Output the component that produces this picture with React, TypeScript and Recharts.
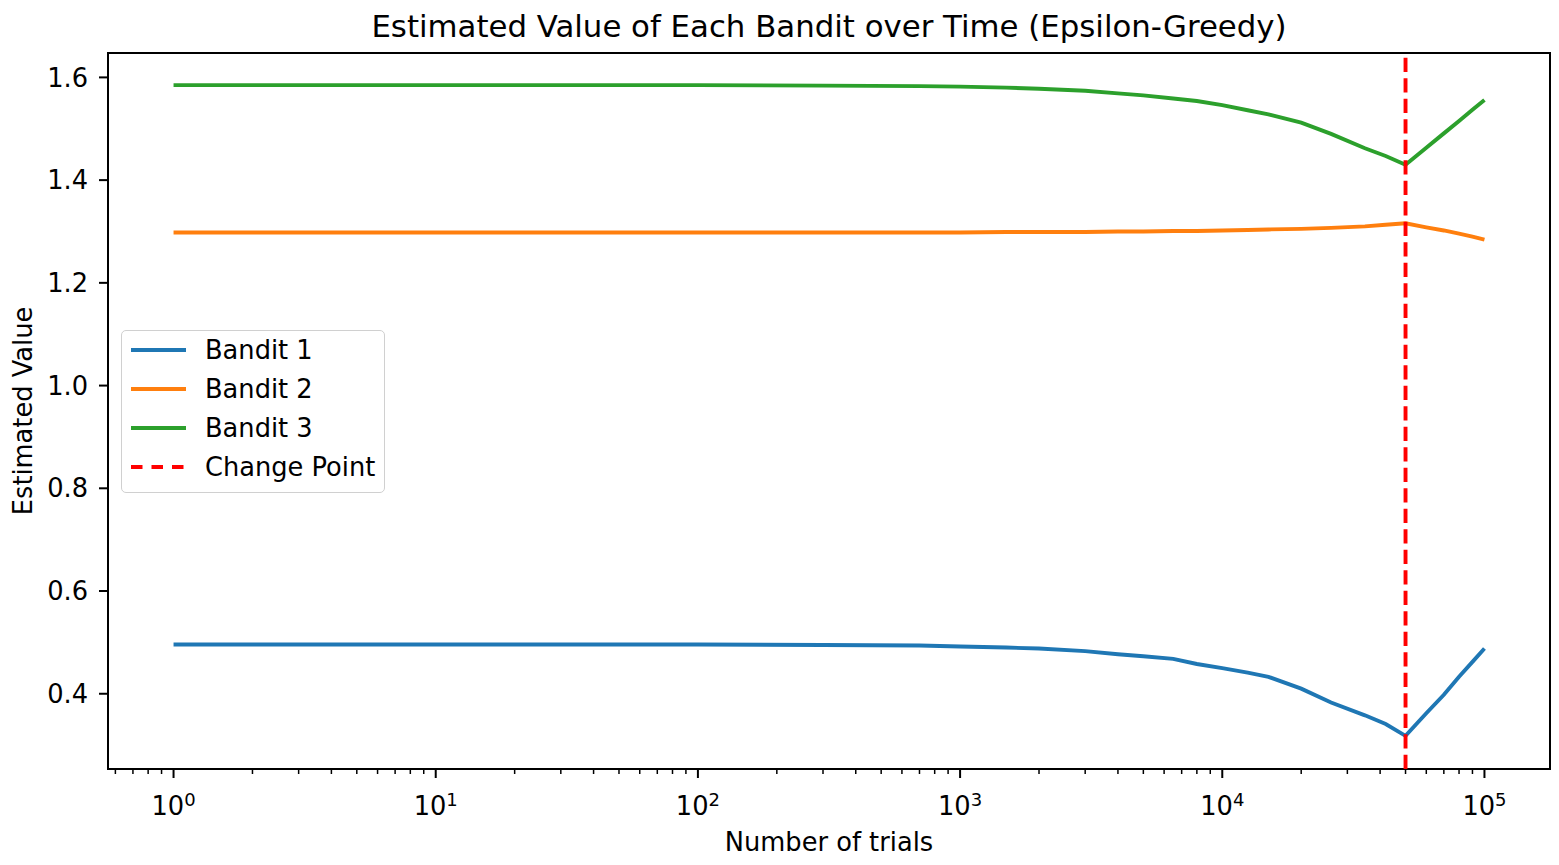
import React from 'react';
import { LineChart, Line, XAxis, YAxis, ReferenceLine, ReferenceArea } from 'recharts';

const trials = [1, 10, 100, 300, 700, 1000, 1500, 2000, 3000, 4000, 5000, 6500, 8000, 10000, 12500, 15000, 20000, 26000, 35000, 42000, 50000, 60000, 70000, 80000, 90000, 100000];
const bandit1 = [0.496, 0.496, 0.496, 0.495, 0.494, 0.492, 0.490, 0.488, 0.483, 0.477, 0.473, 0.468, 0.458, 0.450, 0.441, 0.433, 0.410, 0.383, 0.358, 0.341, 0.318, 0.362, 0.398, 0.433, 0.462, 0.488];
const bandit2 = [1.298, 1.298, 1.298, 1.298, 1.298, 1.298, 1.299, 1.299, 1.299, 1.300, 1.300, 1.301, 1.301, 1.302, 1.303, 1.304, 1.305, 1.307, 1.310, 1.313, 1.316, 1.308, 1.302, 1.296, 1.290, 1.284];
const bandit3 = [1.585, 1.585, 1.585, 1.584, 1.583, 1.582, 1.580, 1.578, 1.574, 1.569, 1.565, 1.559, 1.554, 1.546, 1.536, 1.528, 1.512, 1.490, 1.462, 1.447, 1.430, 1.463, 1.491, 1.515, 1.537, 1.556];

const seriesKeys = ['b1', 'b2', 'b3'];
const seriesNames = ['Bandit 1', 'Bandit 2', 'Bandit 3'];
const seriesColors = ['#1f77b4', '#ff7f0e', '#2ca02c'];
const seriesValues = [bandit1, bandit2, bandit3];

const changePoint = 50000;
const changeLabel = 'Change Point';
const changeColor = '#ff0000';

const titleText = 'Estimated Value of Each Bandit over Time (Epsilon-Greedy)';
const xLabelText = 'Number of trials';
const yLabelText = 'Estimated Value';

const yTicks = [0.4, 0.6, 0.8, 1.0, 1.2, 1.4, 1.6];
const xMajorExponents = [0, 1, 2, 3, 4, 5];
const xMinorMantissas = [2, 3, 4, 5, 6, 7, 8, 9];

const xDomain: [number, number] = [Math.pow(10, -0.25), Math.pow(10, 5.25)];
const yDomain: [number, number] = [0.2535, 1.6475];

const data = trials.map((t, i) => {
  const row: any = { t };
  seriesKeys.forEach((k, j) => {
    row[k] = seriesValues[j][i];
  });
  return row;
});

const xTicks: number[] = [];
for (let e = -1; e <= 5; e++) {
  if (xMajorExponents.includes(e)) xTicks.push(Math.pow(10, e));
  xMinorMantissas.forEach((m) => {
    const v = m * Math.pow(10, e);
    if (v > xDomain[0] && v < xDomain[1]) xTicks.push(v);
  });
}
xTicks.sort((a, b) => a - b);

const FONT = 'DejaVu Sans';

const XTick = (props: any) => {
  const { x, y, payload } = props;
  const v = payload.value as number;
  const ex = Math.log10(v);
  const isMajor = Math.abs(ex - Math.round(ex)) < 1e-6;
  return (
    <g>
      <line x1={x} x2={x} y1={y} y2={y + (isMajor ? 9 : 5)} stroke="#000" strokeWidth={isMajor ? 2 : 1.5} />
      {isMajor && (
        <text x={x} y={y + 46} textAnchor="middle" fontSize={25.7} fontFamily={FONT} fill="#000">
          10
          <tspan fontSize={18} dy={-9.5}>
            {Math.round(ex)}
          </tspan>
        </text>
      )}
    </g>
  );
};

export default function App() {
  const legendItems = [
    ...seriesNames.map((n, i) => ({ name: n, color: seriesColors[i], dashed: false })),
    { name: changeLabel, color: changeColor, dashed: true },
  ];
  return (
    <div style={{ position: 'absolute', left: 0, top: 0, width: 1559, height: 865, background: '#fff' }}>
      <LineChart width={1559} height={865} data={data} margin={{ top: 53, right: 9, left: 0, bottom: 0 }}>
        <XAxis
          dataKey="t"
          type="number"
          scale="log"
          domain={xDomain}
          allowDataOverflow
          ticks={xTicks}
          interval={0}
          tick={<XTick />}
          tickLine={false}
          tickSize={0}
          tickMargin={0}
          axisLine={false}
          height={96}
        />
        <YAxis
          type="number"
          domain={yDomain}
          allowDataOverflow
          ticks={yTicks}
          interval={0}
          width={108}
          tickSize={9}
          tickMargin={11}
          tickLine={{ stroke: '#000', strokeWidth: 2 }}
          axisLine={false}
          tickFormatter={(v: number) => v.toFixed(1)}
          tick={{ fontSize: 25.7, fontFamily: FONT, fill: '#000' }}
        />
        {seriesKeys.map((k, i) => (
          <Line
            key={k}
            dataKey={k}
            name={seriesNames[i]}
            type="linear"
            stroke={seriesColors[i]}
            strokeWidth={3.9}
            dot={false}
            activeDot={false}
            isAnimationActive={false}
          />
        ))}
        <ReferenceLine x={changePoint} stroke={changeColor} strokeWidth={3.9} strokeDasharray="14.3 6.2" />
        <ReferenceArea x1={xDomain[0]} x2={xDomain[1]} y1={yDomain[0]} y2={yDomain[1]} fill="none" fillOpacity={0} stroke="#000" strokeWidth={2} strokeOpacity={1} />
      </LineChart>
      <svg width={1559} height={865} style={{ position: 'absolute', left: 0, top: 0, pointerEvents: 'none' }}>
        <text x={829} y={37} textAnchor="middle" fontSize={30.8} fontFamily={FONT} fill="#000">
          {titleText}
        </text>
        <text x={829} y={851} textAnchor="middle" fontSize={25.7} fontFamily={FONT} fill="#000">
          {xLabelText}
        </text>
        <text x={0} y={0} transform="translate(31.5,411) rotate(-90)" textAnchor="middle" fontSize={25.7} fontFamily={FONT} fill="#000">
          {yLabelText}
        </text>
      </svg>
      <div
        style={{
          position: 'absolute',
          left: 121,
          top: 330,
          width: 264,
          height: 163,
          boxSizing: 'border-box',
          border: '1.5px solid #d0d0d0',
          borderRadius: 5,
          background: 'rgba(255,255,255,0.8)',
        }}
      >
        <svg width={264} height={163} style={{ position: 'absolute', left: -1.5, top: -1.5 }}>
          {legendItems.map((it, i) => {
            const cy = 20 + i * 39;
            return (
              <g key={it.name}>
                <line
                  x1={10}
                  x2={65}
                  y1={cy}
                  y2={cy}
                  stroke={it.color}
                  strokeWidth={3.9}
                  strokeDasharray={it.dashed ? '11.5 9' : undefined}
                />
                <text x={84} y={cy + 9.3} fontSize={25.7} fontFamily={FONT} fill="#000">
                  {it.name}
                </text>
              </g>
            );
          })}
        </svg>
      </div>
    </div>
  );
}
